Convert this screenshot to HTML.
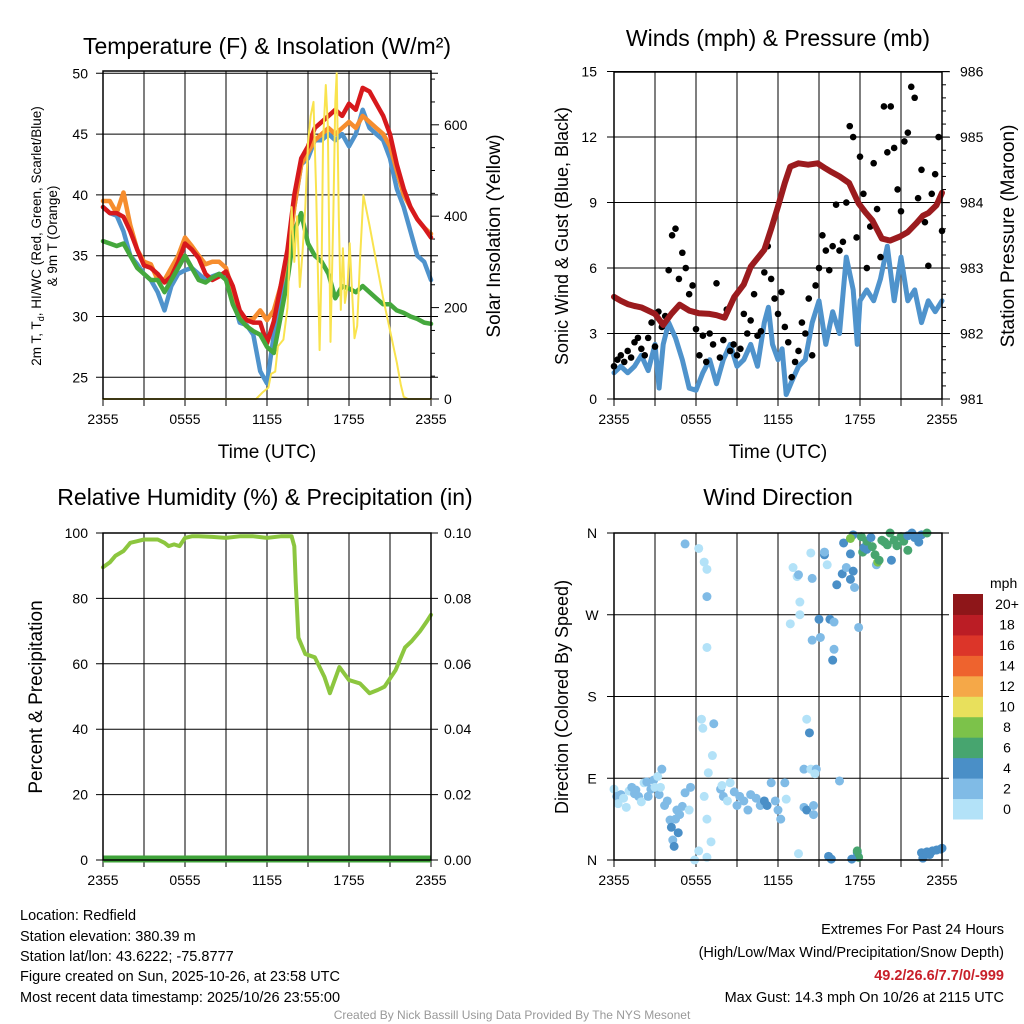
<!DOCTYPE html>
<html><head><meta charset="utf-8"><style>
html,body{margin:0;padding:0;background:#fff}
svg{display:block}
text{font-family:"Liberation Sans",sans-serif;fill:#000}
</style></head><body>
<svg id="fig" width="1024" height="1024" viewBox="0 0 1024 1024" xmlns="http://www.w3.org/2000/svg">
<rect width="1024" height="1024" fill="#fff"/>
<g id="tl"></g>
<g id="tr"></g>
<g id="bl"></g>
<g id="br"></g>
<g font-size="14.5">
<text x="20" y="920">Location: Redfield</text>
<text x="20" y="941">Station elevation: 380.39 m</text>
<text x="20" y="961">Station lat/lon: 43.6222; -75.8777</text>
<text x="20" y="981">Figure created on Sun, 2025-10-26, at 23:58 UTC</text>
<text x="20" y="1002">Most recent data timestamp: 2025/10/26 23:55:00</text>
</g>
<g font-size="14.5" text-anchor="end">
<text x="1004" y="934">Extremes For Past 24 Hours</text>
<text x="1004" y="957">(High/Low/Max Wind/Precipitation/Snow Depth)</text>
<text x="1004" y="980" style="fill:#c8202a;font-weight:bold">49.2/26.6/7.7/0/-999</text>
<text x="1004" y="1002">Max Gust: 14.3 mph On 10/26 at 2115 UTC</text>
</g>
<text x="512" y="1019" font-size="12" text-anchor="middle" style="fill:#999">Created By Nick Bassill Using Data Provided By The NYS Mesonet</text>
</svg>
<script>
// ---- data ----
const xTickLabels = ["2355","0555","1155","1755","2355"];
const tHours = [0,0.5,1,1.5,2,2.5,3,3.5,4,4.5,5,5.5,6,6.5,7,7.5,8,8.5,9,9.5,10,10.5,11,11.5,12,12.5,13,13.5,14,14.5,15,15.5,16,16.5,17,17.5,18,18.5,19,19.5,20,20.5,21,21.5,22,22.5,23,23.5,24];
const tempRed = [39,38.5,38.5,38.2,37,35.5,34.2,34,33.5,32.8,33.3,34.5,36,35.5,34.8,33.5,33,33.3,33.7,32.5,30.5,29.7,29.5,29.5,27.8,29.6,32.5,35.5,40,43,44,45.5,46,46.5,47,46.5,47.5,47,48.8,48.5,47.5,46.5,45,42.5,40.5,39,38,37.3,36.5];
const tempOrange = [39.5,39.5,38.5,40.2,37.5,35.5,34.5,34.3,33,33,34,35,36.5,35.8,35,34.3,34.5,34.5,34,32,30,29.7,29.8,30.5,29.7,30.5,32.5,34.5,39,42.5,43.5,44.5,45,45.5,45,45.5,46,45.5,46.5,46,45.5,45,44,42,40,39,38,37.3,36.8];
const tempBlue = [39,38.5,38.3,37,35,34.3,33.5,33,32,30.5,32.5,33.5,33.8,34,33.5,33,33.3,33.5,33.3,31.5,29.5,29.3,28.5,25.5,24.5,28.5,31.5,35,39,42.5,43,44.5,44.5,45,44.5,45,44,45,47,45.5,45,44.5,43,40.5,39,37,35,34.5,33];
const dewGreen = [36.2,36,35.8,36,35,34,33.5,33,33,32,33,34,35,34,33,32.8,33.2,33.5,33,31,29.8,29.2,28.8,28.5,27.5,27,30,33,37,38.5,36,35,34.5,33.5,31.5,32.5,32.3,32,32.5,32,31.5,31,31,30.5,30.3,30,29.8,29.5,29.4];
const solarHours = [0,11.2,11.7,12.1,12.3,12.6,12.8,13.2,13.5,13.8,14.0,14.2,14.4,14.6,14.8,15.0,15.2,15.4,15.6,15.85,16.0,16.1,16.3,16.45,16.65,16.85,17.0,17.1,17.25,17.4,17.55,17.7,17.9,18.05,18.2,18.4,18.6,18.8,19.05,19.5,20,20.5,21,21.5,21.8,22,22.3,24];
const solarValues = [0,0,15,25,55,60,115,130,200,420,300,400,245,320,420,560,620,650,450,107,300,560,687,600,125,400,650,713,400,195,330,210,250,341,250,133,160,300,446,380,300,220,150,80,30,5,0,0];
const presHours = [0,0.5,1,1.5,2,2.5,3,3.6,4.2,4.8,5.5,6.2,7,7.5,8.1,8.8,9.5,10,10.5,11,11.5,12,12.5,12.9,13.5,14.2,14.9,15.5,15.9,16.5,17.2,17.9,18.4,18.9,19.6,20.2,20.9,21.5,22.1,22.6,23,23.6,24];
const pressure = [982.56,982.5,982.45,982.42,982.4,982.35,982.3,982.13,982.3,982.44,982.35,982.31,982.3,982.28,982.24,982.56,982.75,983.02,983.15,983.28,983.6,983.94,984.3,984.55,984.6,984.58,984.6,984.52,984.47,984.4,984.3,983.99,983.85,983.73,983.45,983.42,983.48,983.55,983.68,983.8,983.84,983.96,984.15];
const windHours = [0,0.5,1,1.5,2,2.5,3,3.3,3.6,4,4.5,5,5.5,6,6.5,7,7.5,8,8.5,9,9.5,10,10.5,11,11.3,11.6,12,12.3,12.6,13,13.5,14,14.5,15,15.5,16,16.5,17,17.5,17.8,18,18.5,19,19.5,20,20.5,21,21.5,22,22.5,23,23.5,24];
const windSpeed = [1.2,1.5,1.2,1.5,2,1.3,2.5,0.5,2.5,3.5,2.8,1.8,0.5,0.4,1.2,1.8,0.7,1.8,2.5,1.5,1.8,2.5,1.5,3.5,4.2,2.5,1.8,2.3,0.2,0.8,1.5,1.8,3.5,4.5,2.5,4,3,6.5,5,2.5,4.5,5,4.5,5.5,7,4.5,6.5,4.5,5,3.5,4.5,4,4.5];
const gustValues = [1.5,1.8,2.0,1.7,2.2,1.9,2.6,2.8,2.3,2.0,2.8,3.5,2.4,4.0,3.3,3.8,5.9,7.5,7.8,5.5,6.7,6.0,4.8,5.2,3.2,2.0,2.9,1.7,3.0,2.5,5.3,1.9,2.7,4.1,2.2,2.5,2.0,2.3,3.9,3.0,3.6,4.8,2.9,3.1,5.8,7.0,5.5,4.6,3.9,4.9,3.3,2.6,1.0,1.7,2.2,3.5,3.0,4.6,2.0,5.2,6.0,7.5,6.8,5.9,7.0,8.9,6.8,7.2,9.0,12.5,12.0,7.4,11.1,9.4,6.0,7.9,10.8,8.7,6.5,13.4,11.3,13.4,11.5,9.6,8.6,11.8,12.2,14.3,13.8,9.2,10.5,8.1,6.1,9.4,10.3,12.0,7.7];
const rhHours = [0,0.5,0.9,1.5,2,2.5,3,3.4,4,4.5,4.8,5.2,5.6,6,6.5,7,8,9,10,11,12,13,13.8,14,14.1,14.3,14.8,15.5,16.2,16.6,17.3,18,18.8,19.5,20.1,20.6,21.4,22.1,22.6,23.2,23.7,24];
const rhValues = [89.5,91,93,94.5,97,97.5,98,98,98,97,96,96.5,96,98.5,99,99,98.8,98.5,99,99,98.5,99,99,96,85,68,63,62,56,51,59,55,54,51,52,53,58,65,67,70,73,75];
const dirHours = [0,0.2,0.3,0.5,0.7,0.9,1.1,1.3,1.5,1.6,1.8,2.0,2.2,2.4,2.5,2.7,2.9,3.0,3.2,3.3,3.4,3.5,3.7,3.9,4.1,4.2,4.3,4.4,4.5,4.6,4.7,4.8,5.0,5.2,5.5,5.6,6.2,6.6,6.8,6.8,6.8,5.2,6.4,6.5,7.3,7.2,6.9,6.6,6.8,7.1,6.2,6.8,5.9,7.8,7.9,8.0,8.3,8.5,8.8,9.0,9.2,9.5,9.8,10,10.4,10.7,11,11.2,11.5,11.8,12.0,12.2,12.5,12.6,13.1,12.9,13.4,13.6,13.6,13.5,13.9,13.9,14.1,14.1,13.5,14.3,14.4,14.4,14.5,14.5,14.6,14.6,14.8,14.7,15.0,15.1,15.7,15.4,15.4,15.6,15.8,16.0,16.1,16.1,16.5,16.3,16.7,16.8,17.0,17.3,17.3,17.5,17.5,17.6,17.8,17.9,17.9,17.3,18.1,18.2,18.3,18.5,18.5,18.8,18.9,19.1,19.2,19.3,19.4,19.6,19.8,20.0,20.2,20.3,20.5,20.7,21.0,21.2,21.5,21.5,21.8,22.0,22.5,22.9,22.3,22.5,22.7,22.9,23.1,23.3,23.6,23.9,24,22.6,17.8,15.9,17.4];
const dirDegrees = [78,70,62,72,68,58,76,80,73,77,70,64,85,86,70,78,88,80,92,72,80,100,60,65,44,36,22,15,45,55,30,50,59,74,55,80,343,328,320,290,234,348,155,145,150,115,96,70,45,20,10,3,0,78,82,70,65,85,75,60,70,65,55,72,68,60,65,60,85,65,55,45,85,67,322,260,312,284,270,314,100,58,155,55,7,140,100,338,310,242,60,50,100,95,265,245,4,336,339,325,265,220,232,262,87,303,315,349,322,309,337,358,318,300,8,3,256,354,356,339,344,342,351,355,345,336,325,328,330,352,350,347,360,330,352,346,356,351,357,341,360,355,358,360,350,8,5,9,6,10,11,12,13,2,10,1,1];
const dirSpeeds = [1,2,1,2,1,1,1,2,3,2,2,1,1,3,2,2,3,1,0,2,1,3,2,3,3,4,3,4,3,3,4,3,2,2,0,3,0,0,0,2,0,3,0,0,3,0,0,0,0,0,0,0,0,2,1,2,1,0,2,2,3,2,2,2,3,3,4,4,3,3,2,3,3,0,0,0,0,0,0,2,3,3,0,4,0,4,0,0,3,3,3,3,2,0,4,3,4,4,2,0,4,4,3,3,3,4,4,4,2,4,4,4,4,3,4,6,3,8,6,6,4,4,6,4,6,6,3,8,6,6,6,6,6,4,6,6,6,6,4,6,4,4,4,6,4,4,4,4,4,4,4,4,4,4,6,4,4];
const legendLabels = ["0","2","4","6","8","10","12","14","16","18","20+"];
const legendColors = ["#b3e2f8","#80bbe6","#4a8fc7","#47a56f","#7cc24a","#e8e05c","#f5a848","#ee632e","#dc3529","#bb1d25","#8e1619"];

// ---- helpers ----
const NS="http://www.w3.org/2000/svg";
function el(parent,tag,attrs,txt){const e=document.createElementNS(NS,tag);for(const k in attrs)e.setAttribute(k,attrs[k]);if(txt!==undefined)e.textContent=txt;parent.appendChild(e);return e;}
function polyline(parent,xs,ys,fx,fy,color,w,name){
  const pts=xs.map((h,i)=>fx(h).toFixed(1)+","+fy(ys[i]).toFixed(1)).join(" ");
  const p=el(parent,"polyline",{points:pts,fill:"none",stroke:color,"stroke-width":w,"stroke-linejoin":"round","stroke-linecap":"round"});
  
  
  return p;
}
function frame(g,x0,x1,y0,y1,fx){
  for(let h=3;h<24;h+=3){const l=el(g,"line",{x1:fx(h),x2:fx(h),y1:y0,y2:y1,stroke:"#555","stroke-width":1.5});
    
    }
  for(let h=0;h<=24;h+=3){el(g,"line",{x1:fx(h),x2:fx(h),y1:y1,y2:y1+7,stroke:"#000","stroke-width":1});}
  xTickLabels.forEach((s,i)=>{const t=el(g,"text",{x:fx(i*6),y:y1+25,"font-size":14,"text-anchor":"middle"},s);
    
    });
}
function box(g,x0,x1,y0,y1){const r=el(g,"rect",{x:x0,y:y0,width:x1-x0,height:y1-y0,fill:"none",stroke:"#000","stroke-width":1.5});
  
  }
function hgrid(g,x0,x1,y,ext){el(g,"line",{x1:x0-ext,x2:x1+ext,y1:y,y2:y,stroke:"#000","stroke-width":1});}
function vtitle(g,x,y,s,fs,name){const t=el(g,"text",{x:0,y:0,"font-size":fs,"text-anchor":"middle",transform:`translate(${x},${y}) rotate(-90)`},s);
  
  return t;}
function title(g,x,y,s,name){const t=el(g,"text",{x:x,y:y,"font-size":23,"text-anchor":"middle"},s);
  
  return t;}

// ---- Temperature panel ----
(function(){
  const g=document.getElementById("tl");
  const X0=103,X1=431,Y0=71,Y1=399;
  const fx=h=>X0+h*(X1-X0)/24;
  const fT=t=>73.3+(50-t)*12.16;
  const fS=w=>399-w*0.457;
  frame(g,X0,X1,Y0,Y1,fx);
  [25,30,35,40,45,50].forEach(v=>{hgrid(g,X0,X1,fT(v),7);
    const t=el(g,"text",{x:88,y:fT(v)+5,"font-size":14,"text-anchor":"end"},v);
    
    });
  for(let w=0;w<=700;w+=50){el(g,"line",{x1:X1,x2:X1+(w%200==0?8:4),y1:fS(w),y2:fS(w),stroke:"#000","stroke-width":1});}
  [0,200,400,600].forEach(w=>{const t=el(g,"text",{x:444,y:fS(w)+5,"font-size":14},w);
    
    });
  polyline(g,tHours,tempBlue,fx,fT,"#4f93cc",4.5,"hi-wc-line");
  polyline(g,tHours,tempOrange,fx,fT,"#f68d2e",4.5,"9m-temp-line");
  polyline(g,tHours,tempRed,fx,fT,"#d7191c",4.5,"2m-temp-line");
  polyline(g,tHours,dewGreen,fx,fT,"#45a83d",4.5,"dewpoint-line");
  polyline(g,solarHours,solarValues,fx,fS,"#f9e34e",2,"solar-line");
  box(g,X0,X1,Y0,Y1);
  title(g,267,54,"Temperature (F) & Insolation (W/m\u00B2)","temp-title");
  const yt=vtitle(g,41,236,"",13.5,"temp-y-title");
  yt.innerHTML='2m T, T<tspan font-size="9" dy="3">d</tspan><tspan dy="-3">, HI/WC (Red, Green, Scarlet/Blue)</tspan>';
  vtitle(g,57,236,"& 9m T (Orange)",13.5,"temp-y-title-2");
  vtitle(g,500,236,"Solar Insolation (Yellow)",19,"solar-y-title");
  const t=el(g,"text",{x:267,y:458,"font-size":19,"text-anchor":"middle"},"Time (UTC)");
  
  
})();

// ---- Wind & pressure panel ----
(function(){
  const g=document.getElementById("tr");
  const X0=614,X1=942,Y0=72,Y1=399;
  const fx=h=>X0+h*(X1-X0)/24;
  const fW=v=>399-v*21.83;
  const fP=p=>399-(p-981)*65.46;
  frame(g,X0,X1,Y0,Y1,fx);
  [0,3,6,9,12,15].forEach(v=>{hgrid(g,X0,X1,fW(v),7);
    const t=el(g,"text",{x:597,y:fW(v)+5,"font-size":14,"text-anchor":"end"},v);
    
    });
  for(let p=981;p<=986.001;p+=0.2){el(g,"line",{x1:X1,x2:X1+(Math.abs(p-Math.round(p))<0.01?8:4),y1:fP(p),y2:fP(p),stroke:"#000","stroke-width":1});}
  [981,982,983,984,985,986].forEach(p=>{const t=el(g,"text",{x:960,y:fP(p)+5,"font-size":14},p);
    
    });
  polyline(g,windHours,windSpeed,fx,fW,"#4f93cc",5,"wind-speed-line");
  gustValues.forEach((v,i)=>{const c=el(g,"circle",{cx:fx(i*0.25),cy:fW(v),r:3.3,fill:"#000"});
    
    });
  polyline(g,presHours,pressure,fx,fP,"#9b1b1e",6,"pressure-line");
  box(g,X0,X1,Y0,Y1);
  title(g,778,46,"Winds (mph) & Pressure (mb)","wind-title");
  vtitle(g,568,236,"Sonic Wind & Gust (Blue, Black)",18,"wind-y-title");
  vtitle(g,1014,236,"Station Pressure (Maroon)",19,"pressure-y-title");
  const t=el(g,"text",{x:778,y:458,"font-size":19,"text-anchor":"middle"},"Time (UTC)");
  
  
})();

// ---- RH panel ----
(function(){
  const g=document.getElementById("bl");
  const X0=103,X1=431,Y0=533,Y1=860;
  const fx=h=>X0+h*(X1-X0)/24;
  const fR=r=>860-r*3.27;
  frame(g,X0,X1,Y0,Y1,fx);
  [0,20,40,60,80,100].forEach(v=>{hgrid(g,X0,X1,fR(v),7);
    const t=el(g,"text",{x:88,y:fR(v)+5,"font-size":14,"text-anchor":"end"},v);
    
    
    const t2=el(g,"text",{x:444,y:fR(v)+5,"font-size":14},(v/1000).toFixed(2));
    
    });
  polyline(g,rhHours,rhValues,fx,fR,"#8cc63f",4,"rh-line");
  const pz=el(g,"line",{x1:X0,x2:X1,y1:Y1-1,y2:Y1-1,stroke:"#3fa33a","stroke-width":7});
  
  
  box(g,X0,X1,Y0,Y1);
  title(g,265,505,"Relative Humidity (%) & Precipitation (in)","rh-title");
  vtitle(g,42,697,"Percent & Precipitation",19,"rh-y-title");
})();

// ---- Wind direction panel ----
(function(){
  const g=document.getElementById("br");
  const X0=614,X1=942,Y0=533,Y1=860;
  const fx=h=>X0+h*(X1-X0)/24;
  const fD=d=>860-d*(327/360);
  frame(g,X0,X1,Y0,Y1,fx);
  ["N","E","S","W","N"].forEach((s,i)=>{hgrid(g,X0,X1,fD(i*90),7);
    const t=el(g,"text",{x:592,y:fD(i*90)+5,"font-size":14,"text-anchor":"middle"},s);
    
    });
  dirHours.forEach((h,i)=>{const idx=Math.min(10,Math.floor(dirSpeeds[i]/2));
    const c=el(g,"circle",{cx:fx(h),cy:fD(dirDegrees[i]),r:4.5,fill:legendColors[idx]});
    
    });
  box(g,X0,X1,Y0,Y1);
  title(g,778,505,"Wind Direction","direction-title");
  vtitle(g,568,697,"Direction (Colored By Speed)",18,"direction-y-title");
  const lg=el(g,"g",{});
  
  
  const t0=el(lg,"text",{x:990,y:588,"font-size":14},"mph");
  
  
  const LT=594,LB=819,bh=(LB-LT)/11;
  legendColors.forEach((c,i)=>{const y=LB-(i+1)*bh;
    const r=el(lg,"rect",{x:953,y:y,width:30,height:bh+0.5,fill:c});
    
    
    const t=el(lg,"text",{x:1007,y:y+bh/2+5,"font-size":14,"text-anchor":"middle"},legendLabels[i]);
    
    });
})();
</script>
</body></html>
